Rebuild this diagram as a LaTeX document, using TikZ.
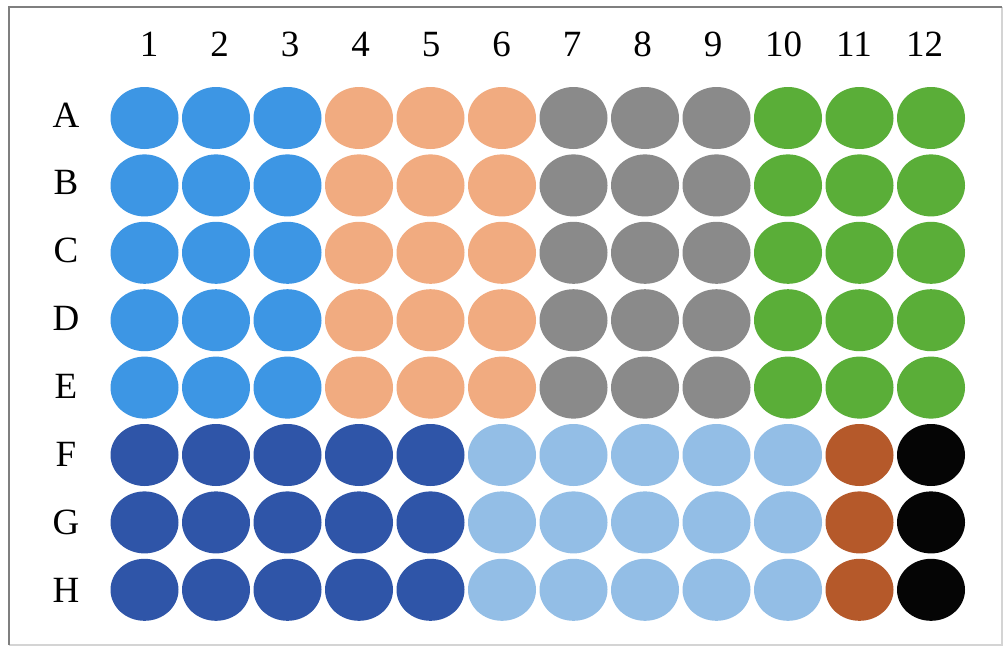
\documentclass[tikz,border=0pt]{standalone}
\usepackage{fontspec}
\setmainfont{Liberation Serif}
\usetikzlibrary{shapes.geometric}
\definecolor{cblue}{HTML}{3D96E4}
\definecolor{cpeach}{HTML}{F1AB80}
\definecolor{cgray}{HTML}{8A8A8A}
\definecolor{cgreen}{HTML}{5AAE38}
\definecolor{cdblue}{HTML}{2F55A8}
\definecolor{clblue}{HTML}{93BEE6}
\definecolor{cbrown}{HTML}{B5592A}
\definecolor{cblack}{HTML}{050505}
\definecolor{edgedark}{HTML}{7F7F7F}
\definecolor{edgelight}{HTML}{D4D4D4}
\begin{document}
\begin{tikzpicture}[x=1pt,y=-1pt,
  well/.style={ellipse, minimum width=68pt, minimum height=62pt, inner sep=0pt},
  lab/.style={font=\fontsize{37}{40}\selectfont, anchor=base, inner sep=0pt}]
\useasboundingbox (0,0) rectangle (1003,646);
\fill[white] (0,0) rectangle (1003,646);
\draw[edgelight, line width=1.5pt] (1002,7) -- (1002,645) -- (9,645);
\draw[edgedark, line width=2pt] (9,645) -- (9,7) -- (1002,7);
% column labels
\foreach \c in {1,...,12}{
  \node[lab] (col\c) at ({149+70.5*(\c-1)},56) {\c};
}
% row labels
\foreach \r/\L in {1/A,2/B,3/C,4/D,5/E,6/F,7/G,8/H}{
  \node[lab] (row\L) at (66,{127+67.9*(\r-1)}) {\L};
}
% wells
\foreach \r/\L in {1/A,2/B,3/C,4/D,5/E}{
  \foreach \c in {1,...,12}{
    \ifnum\c<4 \def\col{cblue}\else\ifnum\c<7 \def\col{cpeach}\else\ifnum\c<10 \def\col{cgray}\else \def\col{cgreen}\fi\fi\fi
    \node[well, fill=\col] (w\L\c) at ({144.5+71.5*(\c-1)},{118+67.4*(\r-1)}) {};
  }
}
\foreach \r/\L in {6/F,7/G,8/H}{
  \foreach \c in {1,...,12}{
    \ifnum\c<6 \def\col{cdblue}\else\ifnum\c<11 \def\col{clblue}\else\ifnum\c<12 \def\col{cbrown}\else \def\col{cblack}\fi\fi\fi
    \node[well, fill=\col] (w\L\c) at ({144.5+71.5*(\c-1)},{118+67.4*(\r-1)}) {};
  }
}
\end{tikzpicture}
\end{document}
